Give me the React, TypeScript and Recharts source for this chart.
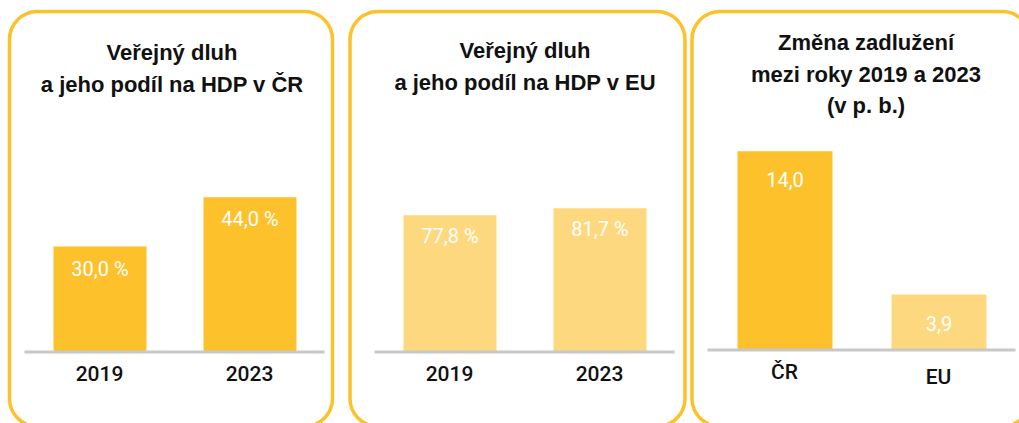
import React from 'react';
import { Bar, BarChart, Cell, LabelList, XAxis, YAxis } from 'recharts';

const years = ['2019', '2023'];
const debtCZ = [30.0, 44.0];
const debtEU = [77.8, 81.7];
const changeCategories = ['ČR', 'EU'];
const changeValues = [14.0, 3.9];

const DARK = '#FCC12B';
const LIGHT = '#FDD87F';
const AXIS = '#C8C8C8';

const czData = years.map((year, i) => ({ name: year, value: debtCZ[i] }));
const euData = years.map((year, i) => ({ name: year, value: debtEU[i] }));
const changeData = changeCategories.map((name, i) => ({ name, value: changeValues[i] }));

const fmt = (v: number, suffix: string) => v.toFixed(1).replace('.', ',') + suffix;

function valueLabel(offset: number, suffix: string) {
  return (props: any) => {
    const { x, y, width, value } = props;
    return (
      <text
        x={Number(x) + Number(width) / 2}
        y={Number(y) + offset}
        textAnchor="middle"
        fill="#ffffff"
        fontFamily="Roboto, sans-serif"
        fontSize={20}
      >
        {fmt(Number(value), suffix)}
      </text>
    );
  };
}

function CategoryTick(props: any) {
  const { x, y, payload } = props;
  // the EU label sits a little lower in the original
  const shift = payload.value === 'EU' ? 5 : 0;
  return (
    <text
      x={x}
      y={y + 21 + shift}
      textAnchor="middle"
      fill="#111"
      fontFamily="Roboto, sans-serif"
      fontWeight={500}
      fontSize={21}
    >
      {payload.value}
    </text>
  );
}

const titleStyle = {
  fontFamily: '"Liberation Sans", Arial, sans-serif',
  fontWeight: 700,
  fontSize: 22,
  fill: '#111',
} as const;

function Frames() {
  return (
    <svg width={1019} height={423} style={{ position: 'absolute', left: 0, top: 0 }}>
      <rect x={9.5} y={11.5} width={323} height={415} rx={28} fill="none" stroke={DARK} strokeWidth={3.5} />
      <rect x={350} y={11.5} width={335} height={415} rx={28} fill="none" stroke={DARK} strokeWidth={3.5} />
      <rect x={692} y={11.5} width={338} height={415} rx={28} fill="none" stroke={DARK} strokeWidth={3.5} />
      <g textAnchor="middle" style={titleStyle}>
        <text x={172} y={60}>Veřejný dluh</text>
        <text x={172} y={92}>a jeho podíl na HDP v ČR</text>
        <text x={525} y={58}>Veřejný dluh</text>
        <text x={525} y={90}>a jeho podíl na HDP v EU</text>
        <text x={866} y={50}>Změna zadlužení</text>
        <text x={866} y={82}>mezi roky 2019 a 2023</text>
        <text x={866} y={113}>(v p. b.)</text>
      </g>
    </svg>
  );
}

export default function App() {
  return (
    <div style={{ position: 'absolute', left: 0, top: 0, width: 1019, height: 423, overflow: 'hidden', background: '#fff' }}>
      <Frames />

      <div style={{ position: 'absolute', left: 0, top: 0 }}>
        <BarChart width={340} height={423} data={czData} margin={{ top: 141, right: 15.5, left: 24.5, bottom: 0 }}>
          <XAxis
            dataKey="name"
            height={71}
            tickLine={false}
            axisLine={{ stroke: AXIS, strokeWidth: 3 }}
            tick={<CategoryTick />}
          />
          <YAxis hide domain={[0, 60]} />
          <Bar dataKey="value" fill={DARK} barSize={93} isAnimationActive={false}>
            <LabelList dataKey="value" content={valueLabel(29, ' %')} />
          </Bar>
        </BarChart>
      </div>

      <div style={{ position: 'absolute', left: 340, top: 0 }}>
        <BarChart width={340} height={423} data={euData} margin={{ top: 141, right: 5.5, left: 34.5, bottom: 0 }}>
          <XAxis
            dataKey="name"
            height={71}
            tickLine={false}
            axisLine={{ stroke: AXIS, strokeWidth: 3 }}
            tick={<CategoryTick />}
          />
          <YAxis hide domain={[0, 120]} />
          <Bar dataKey="value" fill={LIGHT} barSize={93} isAnimationActive={false}>
            <LabelList dataKey="value" content={valueLabel(28, ' %')} />
          </Bar>
        </BarChart>
      </div>

      <div style={{ position: 'absolute', left: 680, top: 0 }}>
        <BarChart width={339} height={423} data={changeData} margin={{ top: 137, right: 3.5, left: 27.5, bottom: 0 }}>
          <XAxis
            dataKey="name"
            height={73}
            tickLine={false}
            axisLine={{ stroke: AXIS, strokeWidth: 3 }}
            tick={<CategoryTick />}
          />
          <YAxis hide domain={[0, 15]} />
          <Bar dataKey="value" barSize={95} isAnimationActive={false}>
            {changeData.map((d, i) => (
              <Cell key={d.name} fill={i === 0 ? DARK : LIGHT} />
            ))}
            <LabelList dataKey="value" content={valueLabel(36, '')} />
          </Bar>
        </BarChart>
      </div>
    </div>
  );
}
